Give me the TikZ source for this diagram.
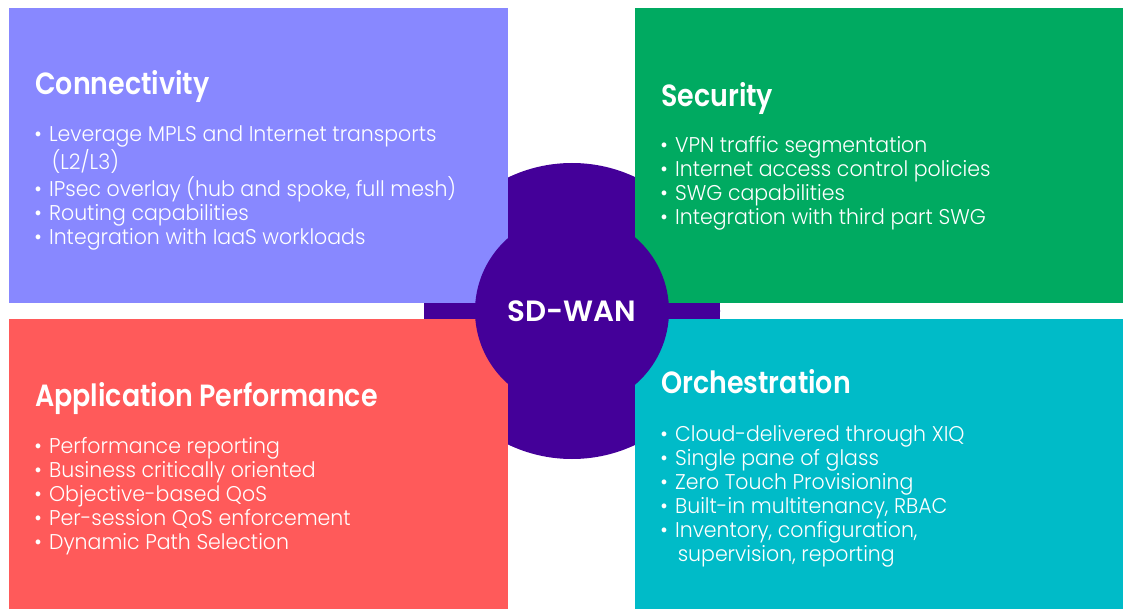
\documentclass[tikz,border=0pt]{standalone}
\usepackage{fontspec}
\setmainfont{Poppins}
\newfontfamily\bodyfont{Poppins Light}[FakeStretch=0.96]
\newfontfamily\headfont{Poppins}[FakeStretch=0.877,BoldFont={Poppins SemiBold}]
\newfontfamily\hubfont{Poppins}[BoldFont={Poppins SemiBold}]
\definecolor{connc}{HTML}{8888FF}
\definecolor{secc}{HTML}{00AA61}
\definecolor{appc}{HTML}{FF5A5A}
\definecolor{orchc}{HTML}{00BBC8}
\definecolor{wanc}{HTML}{440099}
\newcommand{\bl}{\textbullet}
\begin{document}
\begin{tikzpicture}[x=0.75pt,y=-0.75pt,
  panel/.style={fill=#1,draw=none,inner sep=0pt,anchor=north west},
  heading/.style={text=white,anchor=base west,inner sep=0pt,font=\headfont\fontsize{23}{27}\selectfont\bfseries},
  bullets/.style={text=white,anchor=base west,inner sep=0pt,font=\bodyfont\fontsize{16}{18}\selectfont}]
\useasboundingbox (0,0) rectangle (1123,609);
% big hub behind panels
\node[circle,fill=wanc,minimum size=222pt,inner sep=0pt] (hubback) at (572,311) {};
% panels
\node[panel=connc,minimum width=374.25pt,minimum height=221.25pt] (connbox) at (9,8) {};
\node[panel=secc,minimum width=366pt,minimum height=221.25pt] (secbox) at (635,8) {};
\node[panel=appc,minimum width=374.25pt,minimum height=217.5pt] (appbox) at (9,319) {};
\node[panel=orchc,minimum width=366pt,minimum height=217.5pt] (orchbox) at (635,319) {};
% hub
\node[circle,fill=wanc,minimum size=145.5pt,inner sep=0pt,text=white,font=\hubfont\fontsize{22}{26}\selectfont\bfseries] (hub) at (572,311) {SD-WAN};
% headings
\node[heading] (connh) at (35,95) {Connectivity};
\node[heading] (sech) at (661,107) {Security};
\node[heading] (apph) at (35,406) {Application Performance};
\node[heading] (orchh) at (661,393) {Orchestration};
% bullets
\node[bullets] (connl) at (34,142) {\begin{tabular}[t]{@{}l@{\hspace{5.5pt}}l@{}}
\bl & Leverage MPLS and Internet transports\\
 & \hspace{2pt}(L2/L3)\\
\bl & IPsec overlay (hub and spoke, full mesh)\\
\bl & Routing capabilities\\
\bl & Integration with IaaS workloads
\end{tabular}};
\node[bullets] (secl) at (660,153) {\begin{tabular}[t]{@{}l@{\hspace{5.5pt}}l@{}}
\bl & VPN traffic segmentation\\
\bl & Internet access control policies\\
\bl & SWG capabilities\\
\bl & Integration with third part SWG
\end{tabular}};
\node[bullets] (appl) at (34,453) {\begin{tabular}[t]{@{}l@{\hspace{5.5pt}}l@{}}
\bl & Performance reporting\\
\bl & Business critically oriented\\
\bl & Objective-based QoS\\
\bl & Per-session QoS enforcement\\
\bl & Dynamic Path Selection
\end{tabular}};
\node[bullets] (orchl) at (660,441) {\begin{tabular}[t]{@{}l@{\hspace{5.5pt}}l@{}}
\bl & Cloud-delivered through XIQ\\
\bl & Single pane of glass\\
\bl & Zero Touch Provisioning\\
\bl & Built-in multitenancy, RBAC\\
\bl & Inventory, configuration,\\
 & \hspace{2pt}supervision, reporting
\end{tabular}};
\end{tikzpicture}
\end{document}
